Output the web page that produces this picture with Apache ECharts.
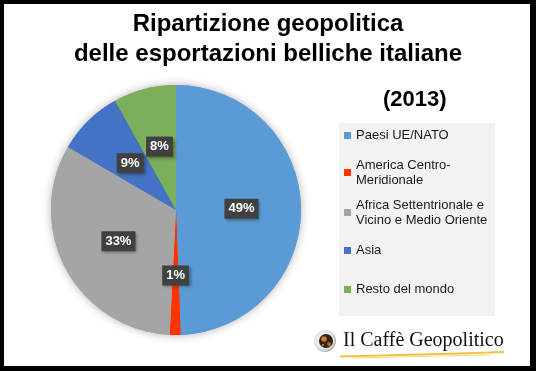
<!DOCTYPE html>
<html><head><meta charset="utf-8">
<script src="https://cdn.jsdelivr.net/npm/echarts@6/dist/echarts.min.js"></script>
<style>html,body{margin:0;padding:0;background:#fff}#c{width:536px;height:371px}</style>
</head><body><div id="c"></div>
<script>
const categories = ['Paesi UE/NATO', 'America Centro-Meridionale', 'Africa Settentrionale e Vicino e Medio Oriente', 'Asia', 'Resto del mondo'];
const legendLabels = ['Paesi UE/NATO', 'America Centro-\nMeridionale', 'Africa Settentrionale e\nVicino e Medio Oriente', 'Asia', 'Resto del mondo'];
const values = [49.4, 1.4, 32.6, 8.5, 8.1];
const colors = ['#5B9BD5', '#FF3300', '#A5A5A5', '#4472C4', '#7CAF5C'];
const titleLines = ['Ripartizione geopolitica', 'delle esportazioni belliche italiane'];
const yearLabel = '(2013)';
const logoText = 'Il Caffè Geopolitico';

const chart = echarts.init(document.getElementById('c'), null, {renderer: 'canvas'});
const data = categories.map((n, i) => ({name: n, value: values[i], itemStyle: {color: colors[i]}}));
const legendTops = [128, 150, 190, 243, 282];
const legends = categories.map((n, i) => {
  const twoLine = legendLabels[i].indexOf('\n') >= 0;
  return {
    data: [n], orient: 'vertical', left: 344, top: legendTops[i], padding: 0,
    itemWidth: 7, itemHeight: 7, icon: 'rect', selectedMode: false,
    itemStyle: {borderWidth: 0},
    formatter: () => legendLabels[i],
    textStyle: {fontFamily: 'Liberation Sans, Arial', fontSize: 13, lineHeight: 15, color: '#1a1a1a',
      padding: twoLine ? [15, 0, 0, 0] : 0}
  };
});
const B = '#000';
chart.setOption({
  backgroundColor: '#fff',
  animation: false,
  title: [
    {text: titleLines.join('\n'), left: 'center', top: 4,
     textStyle: {fontFamily: 'Liberation Sans, Arial', fontWeight: 'bold', fontSize: 24, lineHeight: 30, color: '#000'}},
    {text: yearLabel, left: 378, top: 84,
     textStyle: {fontFamily: 'Liberation Sans, Arial', fontWeight: 'bold', fontSize: 22, color: '#000'}}
  ],
  legend: legends,
  graphic: [
    {type: 'rect', z: -10, shape: {x: 339, y: 123, width: 156, height: 193}, style: {fill: '#F2F2F2'}},
    {type: 'group', children: [
      {type: 'circle', shape: {cx: 325, cy: 341, r: 11}, style: {fill: new echarts.graphic.RadialGradient(0.45, 0.45, 0.6, [{offset: 0, color: '#ffffff'}, {offset: 0.7, color: '#e6e6e6'}, {offset: 1, color: '#9a9a9a'}])}},
      {type: 'circle', shape: {cx: 326, cy: 341, r: 7}, style: {fill: '#2e2219'}},
      {type: 'circle', shape: {cx: 324, cy: 339, r: 2.8}, style: {fill: '#d07a2a'}},
      {type: 'circle', shape: {cx: 329, cy: 344, r: 2}, style: {fill: '#c0682a'}},
      {type: 'circle', shape: {cx: 323, cy: 345, r: 1.3}, style: {fill: '#b8652a'}},
      {type: 'polyline', shape: {points: [[340, 356.5], [400, 355], [460, 353.5], [504, 352]]}, style: {stroke: '#F2C23E', lineWidth: 2.2, fill: null}},
      {type: 'polyline', shape: {points: [[352, 358], [420, 356.5], [490, 355]]}, style: {stroke: '#F7D97A', lineWidth: 1.2, fill: null}},
      {type: 'text', left: 343, top: 331, style: {text: logoText, font: '20px "Liberation Serif", "DejaVu Serif", serif', fill: '#111'}}
    ]},
    {type: 'rect', z: 100, shape: {x: 0, y: 0, width: 536, height: 4}, style: {fill: B}},
    {type: 'rect', z: 100, shape: {x: 0, y: 366, width: 536, height: 5}, style: {fill: B}},
    {type: 'rect', z: 100, shape: {x: 0, y: 0, width: 4, height: 371}, style: {fill: B}},
    {type: 'rect', z: 100, shape: {x: 530, y: 0, width: 6, height: 371}, style: {fill: B}}
  ],
  series: [
    {type: 'pie', silent: true, z: 1, center: [176, 210], radius: 125, startAngle: 90, clockwise: true,
     data: data.map(d => ({...d, itemStyle: {...d.itemStyle, shadowBlur: 8, shadowColor: 'rgba(0,0,0,0.3)'}})),
     label: {show: false}, labelLine: {show: false}, emphasis: {disabled: true}},
    {type: 'pie', z: 2, center: [176, 210], radius: 125, startAngle: 90, clockwise: true, data: data,
     itemStyle: {borderWidth: 0},
     emphasis: {disabled: true},
     label: {show: true, position: 'inside', formatter: p => Math.round(p.value) + '%',
       fontFamily: 'Liberation Sans, Arial', fontWeight: 'bold', fontSize: 13, lineHeight: 14, color: '#fff',
       backgroundColor: '#404040', padding: [3, 4, 3, 4],
       shadowBlur: 3, shadowOffsetX: 2, shadowOffsetY: 2, shadowColor: 'rgba(0,0,0,0.35)'},
     labelLine: {show: false}}
  ]
});
</script></body></html>
